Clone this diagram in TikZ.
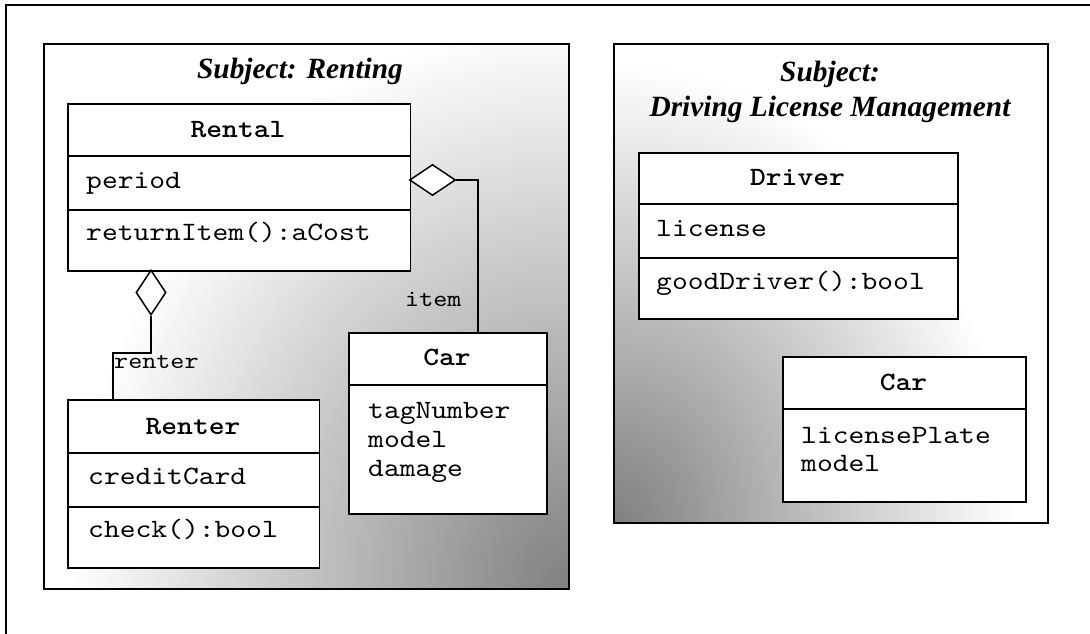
\documentclass[tikz,border=0pt]{standalone}
\usepackage{fontspec}
\setmainfont{Liberation Serif}
\setmonofont{lmmono10-regular.otf}[BoldFont=lmmonolt10-bold.otf, FakeStretch=1.14]
\usetikzlibrary{shapes.geometric}

\begin{document}
\begin{tikzpicture}[x=1pt,y=-1pt,
  frame/.style={line width=2pt},
  subject/.style={fill=white, inner sep=0, anchor=north west},
  subjectline/.style={line width=2pt},
  fade/.style={inner color=black!50, outer color=white},
  classbox/.style={draw, fill=white, line width=1.5pt, anchor=north west, inner sep=0},
  sep/.style={line width=1.5pt},
  cname/.style={anchor=base, inner sep=0, font=\fontsize{26.4}{30}\selectfont\ttfamily\bfseries},
  member/.style={anchor=base west, inner sep=0, font=\fontsize{26.4}{30}\selectfont\ttfamily},
  role/.style={anchor=base west, inner sep=0, font=\fontsize{23.5}{28}\selectfont\ttfamily},
  title/.style={anchor=base, inner sep=0, font=\fontsize{29.4}{34}\selectfont\bfseries\itshape},
  agg/.style={diamond, draw, fill=white, line width=1.5pt, inner sep=0},
  link/.style={line width=1.5pt},
]
\useasboundingbox (0,0) rectangle (1090,634);

% page frame
\draw[frame] (5.7,640) -- (5.7,4.7) -- (1095,4.7);

% subject areas: white ground, a fade out of one corner, then the border
\node[subject, minimum width=525, minimum height=545] (renting) at (44,44) {};
\begin{scope}
  \clip (renting.north west) rectangle (renting.south east);
  \shade[fade] (renting.south east) ellipse [x radius=500, y radius=570];
\end{scope}
\draw[subjectline] (renting.north west) rectangle (renting.south east);

\node[subject, minimum width=434, minimum height=479] (licensing) at (614,44) {};
\begin{scope}
  \clip (licensing.north west) rectangle (licensing.south east);
  \shade[fade] (licensing.south west) ellipse [x radius=400, y radius=460];
\end{scope}
\draw[subjectline] (licensing.north west) rectangle (licensing.south east);

\node[title] (rentingTitle) at (300,79) {Subject: Renting};
\node[title] (licTitleA) at (830,81.5) {Subject:};
\node[title] (licTitleB) at (830,116) {Driving License Management};

% ---- Renting ----
\node[classbox, minimum width=342.5, minimum height=167] (rental) at (67,103) {};
\draw[sep] ([yshift=-53pt]rental.north west) -- ([yshift=-53pt]rental.north east);
\draw[sep] ([yshift=-107pt]rental.north west) -- ([yshift=-107pt]rental.north east);
\node[cname] (rentalName) at (238,137) {Rental};
\node[member] (rentalAttr) at (86,188) {period};
\node[member] (rentalOp) at (86,240) {returnItem():aCost};

\node[classbox, minimum width=251.5, minimum height=168] (renter) at (67,399) {};
\draw[sep] ([yshift=-54pt]renter.north west) -- ([yshift=-54pt]renter.north east);
\draw[sep] ([yshift=-108pt]renter.north west) -- ([yshift=-108pt]renter.north east);
\node[cname] (renterName) at (193,434.5) {Renter};
\node[member] (renterAttr) at (88,484) {creditCard};
\node[member] (renterOp) at (88,537) {check():bool};

\node[classbox, minimum width=198, minimum height=181] (car) at (348,332) {};
\draw[sep] ([yshift=-53pt]car.north west) -- ([yshift=-53pt]car.north east);
\node[cname] (carName) at (447,365.5) {Car};
\node[member] (carTag) at (368,418) {tagNumber};
\node[member] (carModel) at (368,447) {model};
\node[member] (carDamage) at (368,476) {damage};

% aggregations
\node[agg, minimum width=46, minimum height=31] (aggItem) at (432.5,180) {};
\node[agg, minimum width=30, minimum height=45] (aggRenter) at (151,292.5) {};
\coordinate (itemBend) at (478,180);
\coordinate (renterBend) at (113,353);
\draw[link] (aggItem.east) -- (itemBend) -- (itemBend |- car.north);
\draw[link] (aggRenter.south) |- (renterBend) -- (renterBend |- renter.north);
\node[role] (itemRole) at (405,306.5) {item};
\node[role] (renterRole) at (114,368) {renter};

% ---- Driving License Management ----
\node[classbox, minimum width=319, minimum height=166] (driver) at (638,152) {};
\draw[sep] ([yshift=-52pt]driver.north west) -- ([yshift=-52pt]driver.north east);
\draw[sep] ([yshift=-106pt]driver.north west) -- ([yshift=-106pt]driver.north east);
\node[cname] (driverName) at (797.5,185.5) {Driver};
\node[member] (driverAttr) at (656,236) {license};
\node[member] (driverOp) at (656,289) {goodDriver():bool};

\node[classbox, minimum width=243, minimum height=145] (licCar) at (782,356) {};
\draw[sep] ([yshift=-53pt]licCar.north west) -- ([yshift=-53pt]licCar.north east);
\node[cname] (licCarName) at (903.5,390.5) {Car};
\node[member] (licCarPlate) at (801,443) {licensePlate};
\node[member] (licCarModel) at (801,471) {model};
\end{tikzpicture}
\end{document}
